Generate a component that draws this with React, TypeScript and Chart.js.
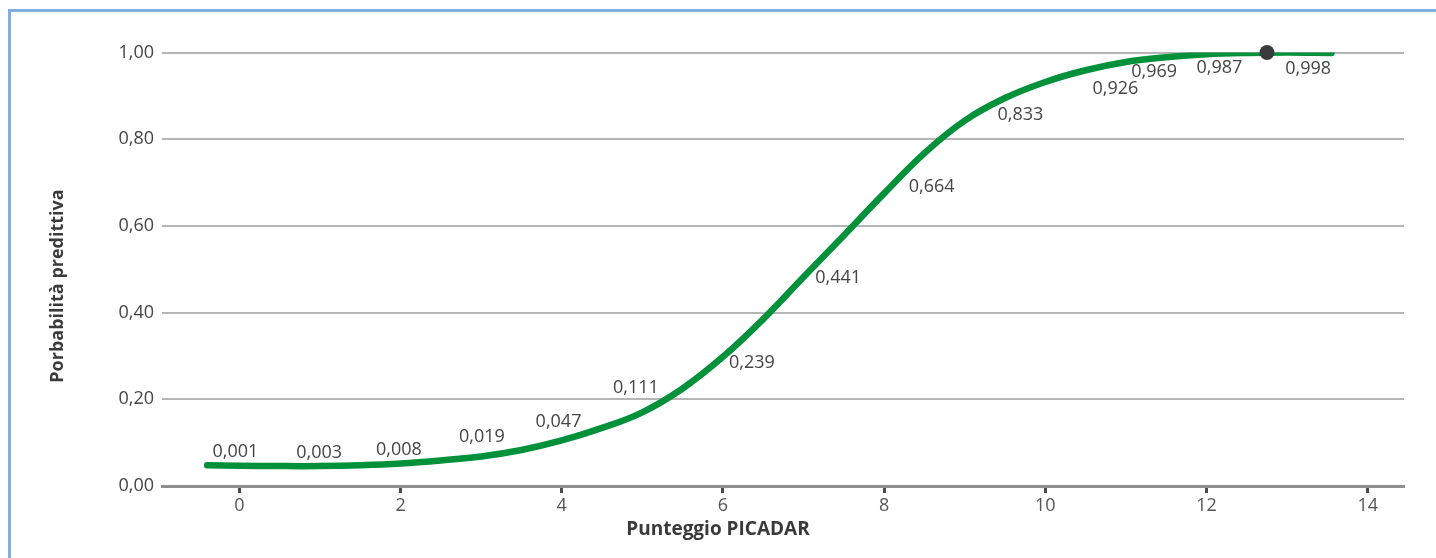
import React, { useEffect, useRef } from 'react';
import { Chart, registerables } from 'chart.js';

Chart.register(...registerables);

// Curve (PICADAR score -> predictive probability)
const curveX = [-0.4, 0, 0.5, 1, 1.5, 2, 2.5, 3, 3.5, 4, 4.5, 5, 5.5, 6, 6.5, 7, 7.5, 8, 8.5, 9, 9.5, 10, 10.5, 11, 11.5, 12, 12.5, 13, 13.55];
const curveY = [0.048, 0.047, 0.046, 0.046, 0.048, 0.052, 0.059, 0.068, 0.083, 0.105, 0.134, 0.17, 0.225, 0.298, 0.385, 0.482, 0.578, 0.675, 0.768, 0.843, 0.895, 0.932, 0.959, 0.978, 0.989, 0.996, 0.999, 1.0, 0.999];

// Value labels and where they sit (data coordinates)
const labelTexts = ['0,001', '0,003', '0,008', '0,019', '0,047', '0,111', '0,239', '0,441', '0,664', '0,833', '0,926', '0,969', '0,987', '0,998'];
const labelX = [-0.05, 0.99, 1.98, 3.01, 3.96, 4.92, 6.36, 7.43, 8.59, 9.69, 10.87, 11.35, 12.16, 13.26];
const labelY = [0.078, 0.076, 0.083, 0.113, 0.147, 0.226, 0.283, 0.479, 0.689, 0.855, 0.915, 0.956, 0.965, 0.963];

// Marker point
const markerX = [12.75];
const markerY = [1.0];

// Axes
const xTicks = [0, 2, 4, 6, 8, 10, 12, 14];
const yTicks = [0, 0.2, 0.4, 0.6, 0.8, 1.0];
const xMin = -0.96;
const xMax = 14.45;
const xTitle = 'Punteggio PICADAR';
const yTitle = 'Porbabilità predittiva';

const FONT = "'Open Sans', 'Noto Sans', sans-serif";

export default function App() {
  const canvasRef = useRef<HTMLCanvasElement | null>(null);

  useEffect(() => {
    const canvas = canvasRef.current;
    if (!canvas) return;

    const textPlugin = {
      id: 'textPlugin',
      afterDatasetsDraw(chart: any) {
        const ctx = chart.ctx;
        const xs = chart.scales.x;
        const ys = chart.scales.y;
        ctx.save();
        ctx.fillStyle = '#3b3b3b';
        markerX.forEach((mx, i) => {
          ctx.beginPath();
          ctx.arc(xs.getPixelForValue(mx), ys.getPixelForValue(markerY[i]), 7.5, 0, Math.PI * 2);
          ctx.fill();
        });
        ctx.restore();
      },
      afterDraw(chart: any) {
        const ctx = chart.ctx;
        const xs = chart.scales.x;
        const ys = chart.scales.y;
        ctx.save();
        ctx.fillStyle = '#444444';
        ctx.font = `18px ${FONT}`;
        ctx.textAlign = 'center';
        ctx.textBaseline = 'middle';
        labelTexts.forEach((t, i) => {
          ctx.fillText(t, xs.getPixelForValue(labelX[i]), ys.getPixelForValue(labelY[i]));
        });
        ctx.fillStyle = '#3a3a3a';
        ctx.font = `bold 19px ${FONT}`;
        ctx.fillText(xTitle, chart.width / 2, 530);
        ctx.font = `bold 18px ${FONT}`;
        ctx.translate(58, 286);
        ctx.rotate(-Math.PI / 2);
        ctx.fillText(yTitle, 0, 0);
        ctx.restore();
      },
    };

    const chart = new Chart(canvas, {
      type: 'line',
      data: {
        datasets: [
          {
            data: curveX.map((x, i) => ({ x, y: curveY[i] })),
            borderColor: '#00913a',
            borderWidth: 6.5,
            borderCapStyle: 'round',
            tension: 0.4,
            pointRadius: 0,
            fill: false,
          } as any,
        ],
      },
      options: {
        responsive: false,
        animation: false,
        devicePixelRatio: 1,
        layout: { padding: { left: 0, right: 32, top: 52.5, bottom: 0 } },
        plugins: {
          legend: { display: false },
          tooltip: { enabled: false },
          title: { display: false },
        },
        scales: {
          x: {
            type: 'linear',
            min: xMin,
            max: xMax,
            afterBuildTicks: (s: any) => {
              s.ticks = xTicks.map((v) => ({ value: v }));
            },
            afterFit: (s: any) => {
              s.height = 72;
            },
            ticks: {
              font: { family: FONT, size: 18 },
              color: '#555555',
              padding: 2,
              maxRotation: 0,
              autoSkip: false,
              callback: (v: any) => String(v),
            },
            grid: {
              drawOnChartArea: false,
              drawTicks: true,
              tickLength: 7,
              tickColor: '#4a4a4a',
              tickWidth: 3,
            },
            border: { display: true, color: '#8f8f8f', width: 3 },
          },
          y: {
            type: 'linear',
            min: 0,
            max: 1,
            afterBuildTicks: (s: any) => {
              s.ticks = yTicks.map((v) => ({ value: v }));
            },
            afterFit: (s: any) => {
              s.width = 162;
            },
            ticks: {
              font: { family: FONT, size: 18 },
              color: '#444444',
              padding: 8,
              autoSkip: false,
              callback: (v: any) => Number(v).toFixed(2).replace('.', ','),
            },
            grid: {
              drawTicks: false,
              color: '#b5b5b5',
              lineWidth: 2,
            },
            border: { display: false },
          },
        },
      },
      plugins: [textPlugin],
    });

    return () => chart.destroy();
  }, []);

  return (
    <div style={{ position: 'fixed', left: 0, top: 0, width: 1436, height: 558, background: '#ffffff', overflow: 'hidden' }}>
      <div
        style={{
          position: 'absolute',
          left: 8,
          top: 9,
          width: 1428,
          height: 549,
          boxSizing: 'border-box',
          borderTop: '3px solid #80aee0',
          borderLeft: '3px solid #80aee0',
        }}
      />
      <canvas ref={canvasRef} width={1436} height={558} style={{ position: 'absolute', left: 0, top: 0 }} />
    </div>
  );
}
